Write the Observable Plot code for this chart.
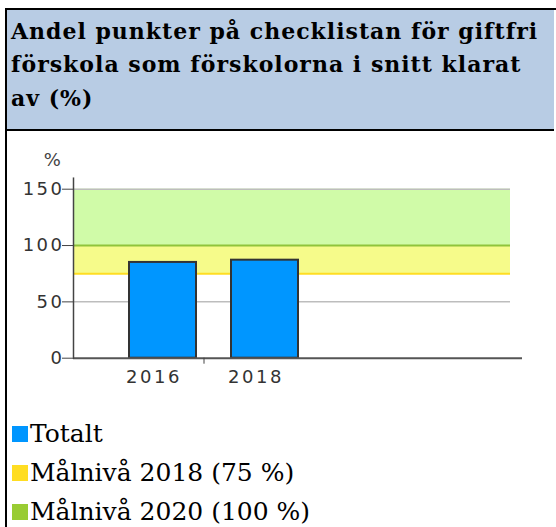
<!DOCTYPE html>
<html>
<head>
<meta charset="utf-8">
<script src="https://cdn.jsdelivr.net/npm/d3@7"></script>
<script src="https://cdn.jsdelivr.net/npm/@observablehq/plot@0.6"></script>
<style>
  html, body { margin: 0; padding: 0; background: #fff; }
  body { position: relative; width: 556px; height: 527px; overflow: hidden; }
  #box { position: absolute; left: 5px; top: 8px; width: 549px; height: 600px;
         border: 2px solid #000; border-bottom: none; z-index: 5; pointer-events: none; }
  #title { position: absolute; left: 7px; top: 10px; width: 547px; height: 121px;
           box-sizing: border-box; background: #b8cce4; border-bottom: 2px solid #000;
           padding: 4.6px 0 0 4px; font-family: "DejaVu Serif", serif; font-weight: bold;
           font-size: 22px; line-height: 33.5px; letter-spacing: 1px; color: #000; white-space: nowrap; }
  #chart { position: absolute; left: 0; top: 131px; }
  #legend { position: absolute; left: 12px; top: 414px; font-family: "DejaVu Serif", serif;
            font-size: 25px; line-height: 39px; color: #000; }
  .sw { display: inline-block; width: 16px; height: 16px; margin-right: 2px; }
</style>
</head>
<body>
<div id="box"></div>
<div id="title"></div>
<div id="chart"></div>
<div id="legend"></div>
<script>
// ---- data ----
const titleLines = ["Andel punkter på checklistan för giftfri", "förskola som förskolorna i snitt klarat", "av (%)"];
const years = ["2016", "2018"];
const totals = [85, 87];
const target2018 = 75;
const target2020 = 100;
const yMax = 150;
const yTicks = [0, 50, 100, 150];
const gridLines = [50, 150];
const yUnit = "%";
const legendLabels = ["Totalt", "Målnivå 2018 (75 %)", "Målnivå 2020 (100 %)"];

// ---- colours ----
const BLUE = "#0096ff", YELLOW = "#ffdd22", GREEN = "#99cc33";

document.getElementById("title").innerHTML = titleLines.join("<br>");

const rows = years.map((y, i) => ({year: y, value: totals[i]}));

const chart = Plot.plot({
  width: 556,
  height: 269,
  marginLeft: 73,
  marginRight: 46,
  marginTop: 57.7,
  marginBottom: 42.3,
  style: {background: "transparent", fontFamily: "DejaVu Sans", fontSize: "18px",
          color: "#333", letterSpacing: "2.5px", overflow: "visible"},
  x: {domain: years, range: [111.7, 315.7], paddingInner: 0.34, paddingOuter: 0.17},
  y: {domain: [0, yMax]},
  marks: [
    Plot.rect([{lo: target2018, hi: target2020}], {y1: "lo", y2: "hi", fill: "#f6fb8a"}),
    Plot.rect([{lo: target2020, hi: yMax}], {y1: "lo", y2: "hi", fill: "#d0fba8"}),
    Plot.ruleY(gridLines, {stroke: "#bdbdbd", strokeWidth: 1.5}),
    Plot.ruleY([target2018], {stroke: YELLOW, strokeWidth: 2}),
    Plot.ruleY([target2020], {stroke: "#8fc43a", strokeWidth: 2}),
    Plot.barY(rows, {x: "year", y: "value", fill: BLUE, stroke: "#333", strokeWidth: 2}),
    Plot.ruleY([0], {stroke: "#555", strokeWidth: 2, insetRight: -12}),
    Plot.frame({anchor: "left", stroke: "#444", strokeWidth: 1.5, insetTop: -11}),
    Plot.axisY({ticks: yTicks, tickSize: 11, tickPadding: -2, stroke: "#444", fontSize: 18, label: null}),
    Plot.axisX({tickSize: 0, tickPadding: 12, dx: -9, fontSize: 18, label: null}),
    Plot.axisX({ticks: [years[0]], tickSize: 6, tickFormat: () => "", dx: 41, stroke: "#444", label: null}),
    Plot.text([yUnit], {frameAnchor: "top-left", textAnchor: "middle", lineAnchor: "middle",
                        dx: -20, dy: -29, fill: "#444", fontSize: 18})
  ]
});
document.getElementById("chart").appendChild(chart);

const legendColors = [BLUE, YELLOW, GREEN];
document.getElementById("legend").innerHTML = legendLabels
  .map((t, i) => `<div><span class="sw" style="background:${legendColors[i]}"></span>${t}</div>`)
  .join("");
</script>
</body>
</html>
